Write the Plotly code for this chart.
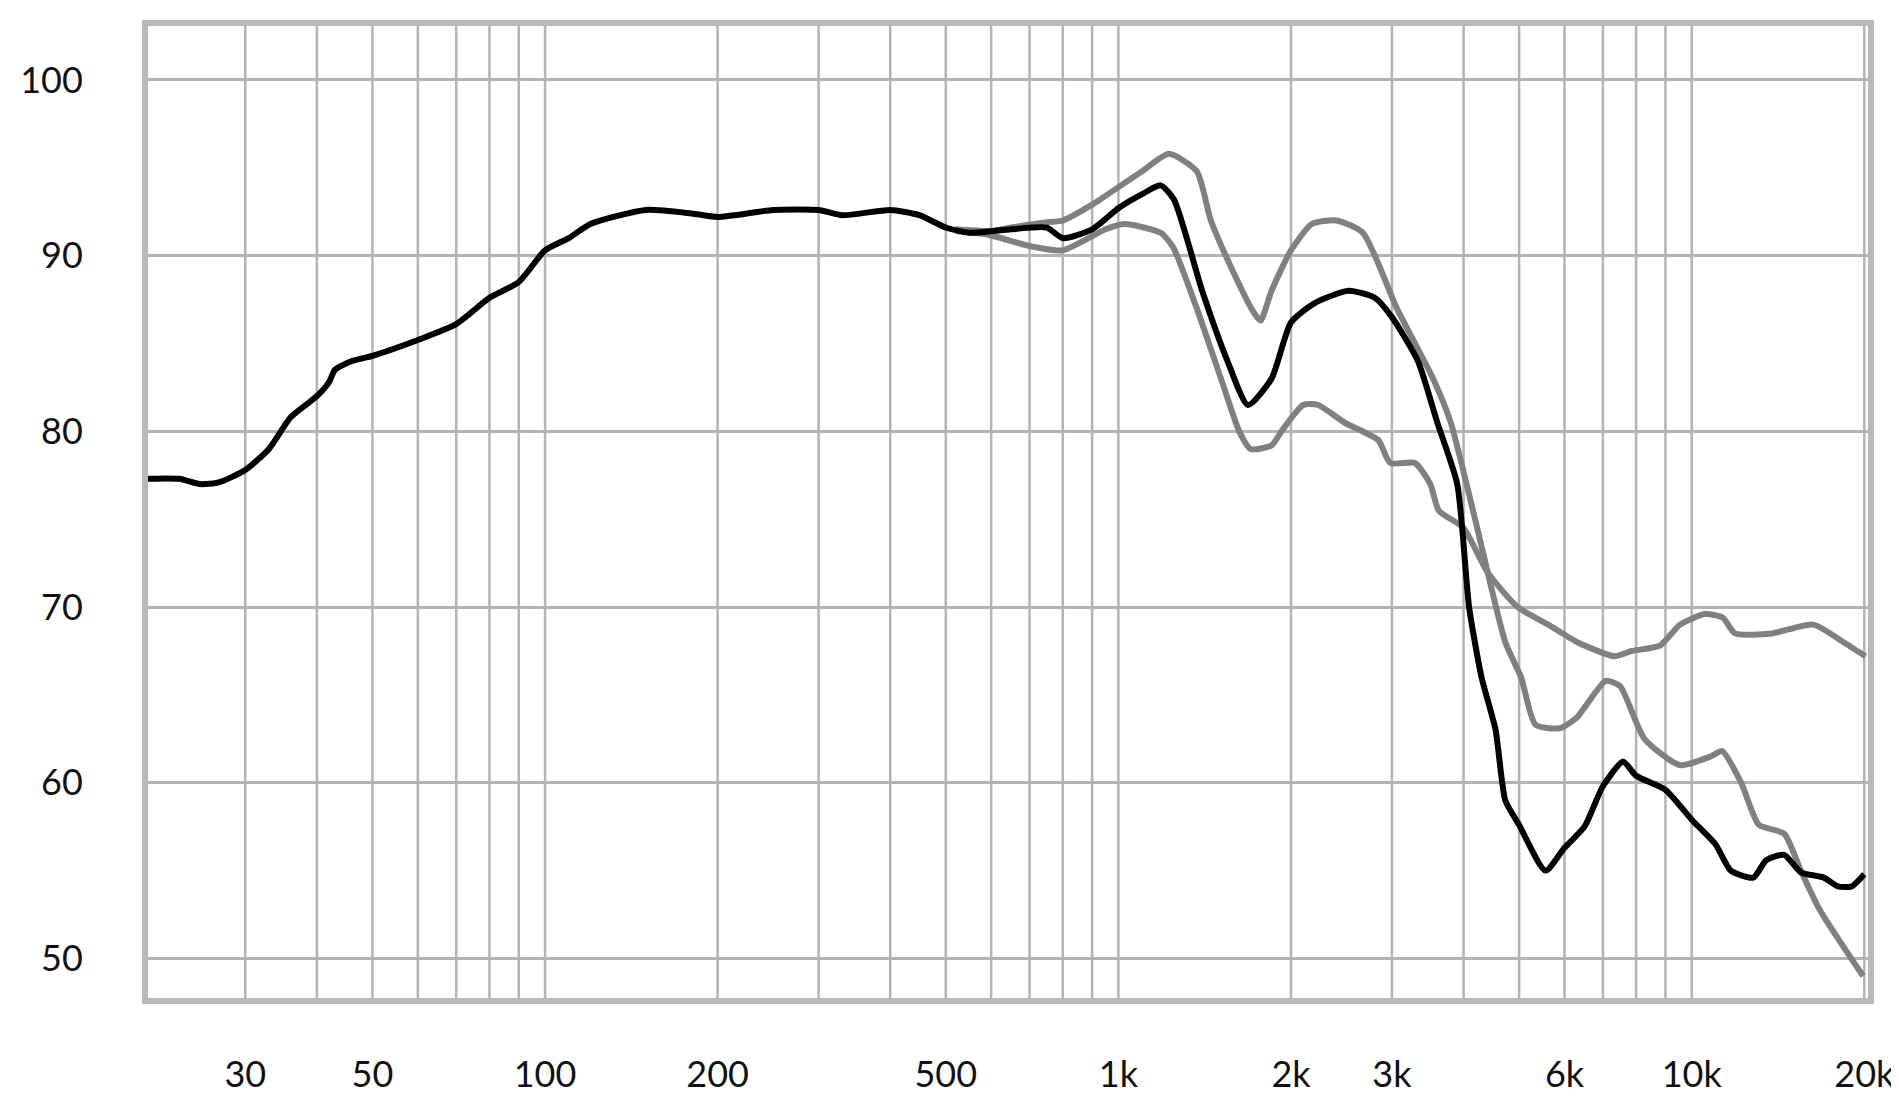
import numpy as np
import plotly.graph_objects as go

# black curve (frequency Hz, level dB)
black_f = [20, 23, 25, 27, 30, 33, 36, 40, 42, 43, 46, 50, 60, 70, 80, 90, 100, 110, 120, 150,
           180, 200, 250, 300, 330, 400, 450, 500, 550, 650, 750, 800, 900, 1000, 1100, 1185,
           1250, 1400, 1550, 1683, 1850, 2000, 2200, 2520, 2800, 3000, 3330, 3600, 3900, 4090,
           4300, 4550, 4730, 5000, 5560, 6000, 6500, 7000, 7590, 8000, 9000, 10000, 11000,
           11700, 12800, 13500, 14500, 15500, 17000, 18000, 19000, 20000]
black_db = [77.3, 77.3, 77.0, 77.1, 77.8, 79.0, 80.8, 82.0, 82.8, 83.5, 84.0, 84.3, 85.2, 86.1,
            87.6, 88.5, 90.3, 91.0, 91.8, 92.6, 92.4, 92.2, 92.6, 92.6, 92.3, 92.6, 92.3, 91.6,
            91.3, 91.5, 91.6, 91.0, 91.5, 92.7, 93.5, 94.0, 93.2, 88.0, 84.0, 81.5, 83.0, 86.2,
            87.3, 88.0, 87.6, 86.5, 84.0, 80.5, 77.0, 70.0, 66.0, 63.0, 59.0, 57.6, 55.0, 56.3,
            57.5, 59.8, 61.2, 60.4, 59.6, 57.9, 56.5, 55.0, 54.6, 55.6, 55.9, 54.9, 54.6, 54.1,
            54.1, 54.8]

# upper gray curve (hidden under the black one below ~550 Hz)
upper_f = [520, 600, 650, 750, 800, 900, 1000,
           1100, 1225, 1370, 1450, 1590, 1720, 1770, 1850, 2000, 2175, 2400, 2670, 3060,
           3540, 3800, 4190, 4730, 5040, 5340, 5880, 6300, 7080, 7500, 8270, 9540, 10800,
           11300, 12200, 13100, 14500, 15500, 16700, 19900]
upper_db = [91.5, 91.4, 91.6, 91.9,
            92.0, 92.9, 93.9, 94.8, 95.8, 94.8, 92.0, 89.0, 86.8, 86.3, 88.0, 90.3, 91.8, 92.0,
            91.3, 87.0, 83.0, 80.5, 75.0, 68.0, 66.0, 63.3, 63.1, 63.7, 65.8, 65.5, 62.5, 61.0,
            61.5, 61.8, 60.0, 57.6, 57.1, 55.0, 52.8, 49.0]

# lower gray curve
lower_f = [520, 590, 710, 800, 950, 1025, 1185,
           1245, 1370, 1510, 1625, 1700, 1850, 1925, 2100, 2230, 2480, 2840, 2980, 3290,
           3500, 3620, 4000, 4400, 4970, 5620, 6320, 7330, 7860, 8800, 9540, 10540, 11330,
           11900, 13800, 16300, 18400, 20100]
lower_db = [91.4, 91.2, 90.5, 90.3,
            91.5, 91.8, 91.3, 90.5, 87.0, 83.0, 80.0, 79.0, 79.2, 80.0, 81.5, 81.5, 80.5, 79.5,
            78.2, 78.2, 77.0, 75.5, 74.5, 72.0, 70.0, 69.0, 68.0, 67.2, 67.5, 67.8, 69.0, 69.6,
            69.4, 68.5, 68.5, 69.0, 68.0, 67.2]

x_tickvals = [30, 50, 100, 200, 500, 1000, 2000, 3000, 6000, 10000, 20000]
x_ticktext = ['30', '50', '100', '200', '500', '1k', '2k', '3k', '6k', '10k', '20k']
y_tickvals = [50, 60, 70, 80, 90, 100]

GRID = '#b3b3b3'
FONT = 'Lato'

fig = go.Figure()

# vertical log grid lines (1-2-3-...-9 per decade)
grid_x = [m * 10 ** d for d in range(1, 5) for m in range(1, 10) if 20 <= m * 10 ** d <= 20000]
for gx in grid_x:
    fig.add_vline(x=gx, line=dict(color=GRID, width=2.5), layer='below')

for name, f, db, col in [('upper', upper_f, upper_db, '#808080'),
                         ('lower', lower_f, lower_db, '#808080'),
                         ('black', black_f, black_db, '#000000')]:
    fig.add_trace(go.Scatter(x=f, y=db, mode='lines', name=name,
                             line=dict(color=col, width=6, shape='spline', smoothing=0.6)))

fig.update_xaxes(type='log', range=[np.log10(20.3), np.log10(20300)],
                 tickvals=x_tickvals, ticktext=x_ticktext, showgrid=False,
                 ticks='', ticklabelstandoff=40, zeroline=False,
                 showline=True, mirror=True, linecolor='#b8b8b8', linewidth=6)
fig.update_yaxes(range=[47.75, 103.07], tickvals=y_tickvals, showgrid=True,
                 gridcolor=GRID, gridwidth=2.5, ticks='', zeroline=False,
                 ticklabelstandoff=52, showline=True, mirror=True,
                 linecolor='#b8b8b8', linewidth=6)

fig.update_layout(
    width=1899, height=1099,
    margin=dict(l=130, r=37, t=15, b=97),
    plot_bgcolor='white', paper_bgcolor='white',
    showlegend=False,
    font=dict(family=FONT, size=36, color='#111111'),
)

fig.write_html("out.html")
